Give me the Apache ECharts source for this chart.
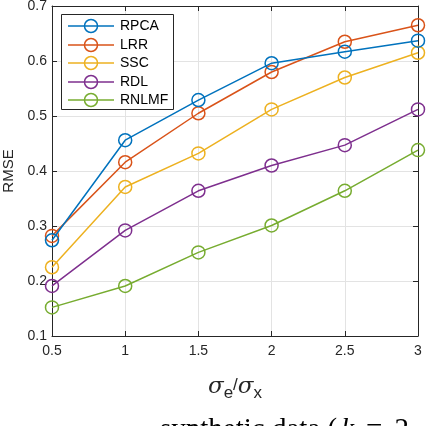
<!DOCTYPE html>
<html><head><meta charset="utf-8">
<script src="https://cdn.jsdelivr.net/npm/echarts@6/dist/echarts.min.js"></script>
<style>html,body{margin:0;padding:0;background:#fff}#c{width:426px;height:426px}</style>
</head><body><div id="c"></div>
<script>
const xValues = [0.5, 1, 1.5, 2, 2.5, 3];
const seriesNames = ['RPCA', 'LRR', 'SSC', 'RDL', 'RNLMF'];
const rpca  = [0.274, 0.456, 0.529, 0.596, 0.617, 0.637];
const lrr   = [0.282, 0.416, 0.505, 0.580, 0.635, 0.665];
const ssc   = [0.225, 0.371, 0.432, 0.512, 0.570, 0.615];
const rdl   = [0.191, 0.292, 0.364, 0.410, 0.447, 0.512];
const rnlmf = [0.152, 0.191, 0.252, 0.301, 0.364, 0.438];
const colors = ['#0072BD', '#D95319', '#EDB120', '#7E2F8E', '#77AC30'];
const allData = [rpca, lrr, ssc, rdl, rnlmf];

const chart = echarts.init(document.getElementById('c'));
const axisCol = '#262626';
const gridCol = '#e3e3e3';
const font = 'Liberation Sans, Arial, sans-serif';

// legend drawn as graphic elements
const legendY = [26, 45, 63, 82, 100];
const graphics = [{
  type: 'rect', shape: {x: 61.5, y: 14.5, width: 112, height: 95},
  style: {fill: '#fff', stroke: axisCol, lineWidth: 1}, z: 100
}];
seriesNames.forEach((n, i) => {
  graphics.push({type: 'line', shape: {x1: 68, y1: legendY[i], x2: 114, y2: legendY[i]},
    style: {stroke: colors[i], lineWidth: 1.5}, z: 101});
  graphics.push({type: 'circle', shape: {cx: 91, cy: legendY[i], r: 6.5},
    style: {stroke: colors[i], fill: 'none', lineWidth: 1.5}, z: 102});
  graphics.push({type: 'text', x: 120, y: legendY[i],
    style: {text: n, fontFamily: font, fontSize: 14, fill: '#000', verticalAlign: 'middle', align: 'left'}, z: 102});
});
graphics.push({
  type: 'text', x: 160, y: 416,
  style: {
    text: '{a|synthetic data (}{k|k}{e|=}{a|2}',
    rich: {
      a: {fontFamily: 'Liberation Serif, serif', fontSize: 29, fill: '#000'},
      k: {fontFamily: 'Liberation Serif, serif', fontStyle: 'italic', fontSize: 29, fill: '#000', padding: [0,0,0,4]},
      e: {fontFamily: 'Liberation Serif, serif', fontSize: 29, fill: '#000', padding: [0,12,0,12]}
    }
  }
});

chart.setOption({
  animation: false,
  grid: {left: 52, right: 8, top: 6, bottom: 90, outerBoundsMode: 'none', containLabel: false},
  xAxis: [{
    type: 'value', min: 0.5, max: 3, interval: 0.5,
    axisLine: {show: true, onZero: false, lineStyle: {color: axisCol, width: 1}},
    axisTick: {show: true, inside: true, length: 5, lineStyle: {color: axisCol}},
    axisLabel: {color: axisCol, fontFamily: font, fontSize: 14, margin: 8,
      formatter: v => String(v)},
    splitLine: {show: true, lineStyle: {color: gridCol, width: 1}},
    name: '{s|σ}{sub|e}{sl|/}{s|σ}{sub|x}',
    nameLocation: 'middle', nameGap: 37,
    nameTextStyle: {
      rich: {
        s: {fontFamily: 'DejaVu Serif, serif', fontStyle: 'italic', fontSize: 23, color: axisCol},
        sub: {fontFamily: font, fontSize: 17, color: axisCol, verticalAlign: 'bottom', padding: [12,0,0,0]},
        sl: {fontFamily: font, fontSize: 17, color: axisCol, padding: [0,0,4,0]}
      }
    }
  }, {
    type: 'value', position: 'top', min: 0.5, max: 3, interval: 0.5,
    axisLine: {show: true, onZero: false, lineStyle: {color: axisCol, width: 1}},
    axisTick: {show: true, inside: true, length: 5, lineStyle: {color: axisCol}},
    axisLabel: {show: false}, splitLine: {show: false}
  }],
  yAxis: [{
    type: 'value', min: 0.1, max: 0.7, interval: 0.1,
    axisLine: {show: true, onZero: false, lineStyle: {color: axisCol, width: 1}},
    axisTick: {show: true, inside: true, length: 5, lineStyle: {color: axisCol}},
    axisLabel: {color: axisCol, fontFamily: font, fontSize: 14, margin: 5,
      formatter: v => v.toFixed(1)},
    splitLine: {show: true, lineStyle: {color: gridCol, width: 1}},
    name: 'RMSE', nameLocation: 'middle', nameGap: 35,
    nameTextStyle: {fontFamily: font, fontSize: 15, color: axisCol}
  }, {
    type: 'value', position: 'right', min: 0.1, max: 0.7, interval: 0.1,
    axisLine: {show: true, onZero: false, lineStyle: {color: axisCol, width: 1}},
    axisTick: {show: true, inside: true, length: 5, lineStyle: {color: axisCol}},
    axisLabel: {show: false}, splitLine: {show: false}
  }],
  series: seriesNames.map((n, i) => ({
    name: n, type: 'line',
    data: xValues.map((x, j) => [x, allData[i][j]]),
    color: colors[i],
    lineStyle: {width: 1.5, color: colors[i]},
    symbol: 'circle', symbolSize: 13,
    itemStyle: {color: 'rgba(0,0,0,0)', borderColor: colors[i], borderWidth: 1.5},
    showSymbol: true, z: 10 - i
  })),
  graphic: graphics
});
</script></body></html>
